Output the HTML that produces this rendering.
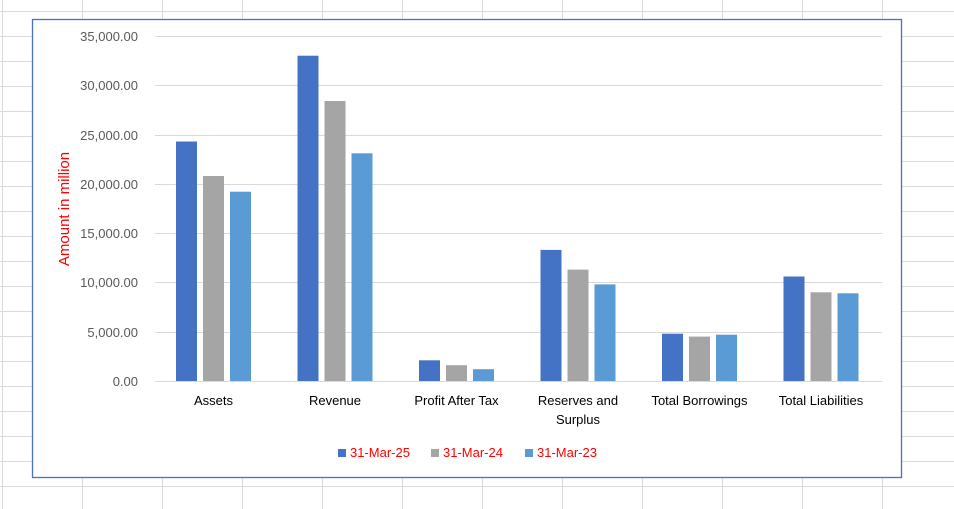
<!DOCTYPE html>
<html><head><meta charset="utf-8"><style>
html,body{margin:0;padding:0;background:#fff;width:954px;height:509px;overflow:hidden}
svg{display:block;font-family:"Liberation Sans",Arial,sans-serif}
</style></head><body>
<svg width="954" height="509" viewBox="0 0 954 509" xmlns="http://www.w3.org/2000/svg">
<g stroke="#dadada" stroke-width="1">
<line x1="2.5" y1="0" x2="2.5" y2="509"/><line x1="82.5" y1="0" x2="82.5" y2="509"/><line x1="162.5" y1="0" x2="162.5" y2="509"/><line x1="242.5" y1="0" x2="242.5" y2="509"/><line x1="322.5" y1="0" x2="322.5" y2="509"/><line x1="402.5" y1="0" x2="402.5" y2="509"/><line x1="482.5" y1="0" x2="482.5" y2="509"/><line x1="562.5" y1="0" x2="562.5" y2="509"/><line x1="642.5" y1="0" x2="642.5" y2="509"/><line x1="722.5" y1="0" x2="722.5" y2="509"/><line x1="802.5" y1="0" x2="802.5" y2="509"/><line x1="882.5" y1="0" x2="882.5" y2="509"/>
<line x1="0" y1="11.5" x2="954" y2="11.5"/><line x1="0" y1="36.5" x2="954" y2="36.5"/><line x1="0" y1="61.5" x2="954" y2="61.5"/><line x1="0" y1="86.5" x2="954" y2="86.5"/><line x1="0" y1="111.5" x2="954" y2="111.5"/><line x1="0" y1="136.5" x2="954" y2="136.5"/><line x1="0" y1="161.5" x2="954" y2="161.5"/><line x1="0" y1="186.5" x2="954" y2="186.5"/><line x1="0" y1="211.5" x2="954" y2="211.5"/><line x1="0" y1="236.5" x2="954" y2="236.5"/><line x1="0" y1="261.5" x2="954" y2="261.5"/><line x1="0" y1="286.5" x2="954" y2="286.5"/><line x1="0" y1="311.5" x2="954" y2="311.5"/><line x1="0" y1="336.5" x2="954" y2="336.5"/><line x1="0" y1="361.5" x2="954" y2="361.5"/><line x1="0" y1="386.5" x2="954" y2="386.5"/><line x1="0" y1="411.5" x2="954" y2="411.5"/><line x1="0" y1="436.5" x2="954" y2="436.5"/><line x1="0" y1="461.5" x2="954" y2="461.5"/><line x1="0" y1="486.5" x2="954" y2="486.5"/>
</g>
<rect x="32.5" y="19.5" width="869" height="458" fill="#fff" stroke="#4472C4" stroke-width="1.3"/>
<g stroke="#d9d9d9" stroke-width="1">
<line x1="155" y1="36.5" x2="882" y2="36.5"/><line x1="155" y1="85.5" x2="882" y2="85.5"/><line x1="155" y1="135.5" x2="882" y2="135.5"/><line x1="155" y1="184.5" x2="882" y2="184.5"/><line x1="155" y1="233.5" x2="882" y2="233.5"/><line x1="155" y1="282.5" x2="882" y2="282.5"/><line x1="155" y1="332.5" x2="882" y2="332.5"/><line x1="155" y1="381.5" x2="882" y2="381.5"/>
</g>
<g font-size="13" fill="#595959" text-anchor="end">
<text x="138" y="41">35,000.00</text><text x="138" y="90">30,000.00</text><text x="138" y="140">25,000.00</text><text x="138" y="189">20,000.00</text><text x="138" y="238">15,000.00</text><text x="138" y="287">10,000.00</text><text x="138" y="337">5,000.00</text><text x="138" y="386">0.00</text>
</g>
<text transform="translate(69,209) rotate(-90)" text-anchor="middle" font-size="15" fill="#FF0000">Amount in million</text>
<g fill="#4472C4">
<rect x="176" y="141.5" width="21" height="239.5"/><rect x="297.5" y="55.7" width="21" height="325.3"/><rect x="419" y="360.3" width="21" height="20.7"/><rect x="540.5" y="249.9" width="21" height="131.1"/><rect x="662" y="333.7" width="21" height="47.3"/><rect x="783.5" y="276.5" width="21" height="104.5"/>
</g>
<g fill="#A5A5A5">
<rect x="203" y="176" width="21" height="205"/><rect x="324.5" y="101" width="21" height="280"/><rect x="446" y="365.2" width="21" height="15.8"/><rect x="567.5" y="269.6" width="21" height="111.4"/><rect x="689" y="336.6" width="21" height="44.4"/><rect x="810.5" y="292.3" width="21" height="88.7"/>
</g>
<g fill="#5B9BD5">
<rect x="230" y="191.7" width="21" height="189.3"/><rect x="351.5" y="153.3" width="21" height="227.7"/><rect x="473" y="369.2" width="21" height="11.8"/><rect x="594.5" y="284.4" width="21" height="96.6"/><rect x="716" y="334.7" width="21" height="46.3"/><rect x="837.5" y="293.3" width="21" height="87.7"/>
</g>
<g font-size="13" fill="#000" text-anchor="middle">
<text x="213.5" y="405">Assets</text><text x="335" y="405">Revenue</text><text x="456.5" y="405">Profit After Tax</text><text x="578" y="405">Reserves and</text><text x="578" y="424">Surplus</text><text x="699.5" y="405">Total Borrowings</text><text x="821" y="405">Total Liabilities</text>
</g>
<rect x="338" y="449" width="8" height="8" fill="#4472C4"/><rect x="431" y="449" width="8" height="8" fill="#A5A5A5"/><rect x="525" y="449" width="8" height="8" fill="#5B9BD5"/>
<g font-size="13" fill="#FF0000">
<text x="350" y="457">31-Mar-25</text><text x="443" y="457">31-Mar-24</text><text x="537" y="457">31-Mar-23</text>
</g>
</svg>
</body></html>
